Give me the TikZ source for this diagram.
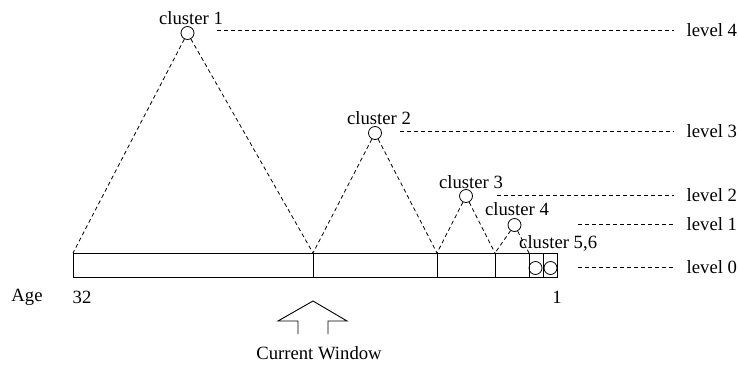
\documentclass[tikz,border=0pt]{standalone}
\usepackage{fontspec}
\setmainfont{Liberation Serif}
\begin{document}
\begin{tikzpicture}[x=1pt,y=-1pt,
  every node/.style={font=\fontsize{18.7}{20}\selectfont, inner sep=0pt},
  clus/.style={draw, circle, minimum size=13pt, inner sep=0pt, line width=0.8pt},
  tri/.style={dashed, dash pattern=on 4pt off 3pt, line width=0.8pt},
  lvl/.style={dashed, dash pattern=on 4pt off 3pt, line width=0.7pt},
  solid line/.style={line width=0.9pt}]
\useasboundingbox (0,0) rectangle (738,367);

% the window bar and its cells
\draw[solid line] (73,253) rectangle (557,277);
\foreach \x in {313,437,495,529,543}
  \draw[solid line] (\x,253) -- (\x,277);

% bar corners used by the cluster triangles
\coordinate (b0) at (73,253);
\coordinate (b1) at (313,253);
\coordinate (b2) at (437,253);
\coordinate (b3) at (495,253);
\coordinate (b4) at (529,253);

% cluster points
\node[clus] (c1) at (187.5,33) {};
\node[clus] (c2) at (375,133) {};
\node[clus] (c3) at (466,196) {};
\node[clus] (c4) at (514.5,225) {};
\node[clus] (c5) at (535.5,268) {};
\node[clus] (c6) at (550.5,268) {};

\node[anchor=base] (t1) at (191,24) {cluster 1};
\node[anchor=base] (t2) at (379,124) {cluster 2};
\node[anchor=base] (t3) at (471,188) {cluster 3};
\node[anchor=base] (t4) at (517,215.5) {cluster 4};
\node[anchor=base west] (t5) at (519,248) {cluster 5,6};

\draw[tri] (c1) -- (b0);
\draw[tri] (c1) -- (b1);
\draw[tri] (c2) -- (b1);
\draw[tri] (c2) -- (b2);
\draw[tri] (c3) -- (b2);
\draw[tri] (c3) -- (b3);
\draw[tri] (c4) -- (b3);
\draw[tri] (c4) -- (b4);

% level guides
\node[anchor=west] (l4) at (686.5,30) {level 4};
\node[anchor=west] (l3) at (686.5,131) {level 3};
\node[anchor=west] (l2) at (686.5,195) {level 2};
\node[anchor=west] (l1) at (686.5,224) {level 1};
\node[anchor=west] (l0) at (686.5,267) {level 0};
\coordinate (s4) at (217,30);
\coordinate (s3) at (400,131);
\coordinate (s2) at (497,195);
\coordinate (s1) at (578,224);
\coordinate (s0) at (578,267);
\draw[lvl] (s4) -- ([xshift=-13pt]l4.west);
\draw[lvl] (s3) -- ([xshift=-13pt]l3.west);
\draw[lvl] (s2) -- ([xshift=-13pt]l2.west);
\draw[lvl] (s1) -- ([xshift=-13pt]l1.west);
\draw[lvl] (s0) -- ([xshift=-13pt]l0.west);

% age axis
\node (age) at (27,297) {Age};
\node (a32) at (82,297) {32};
\node (a1) at (557,297) {1};

% current window marker
\draw[solid line] (298,334) -- (298,321) -- (278,321) -- (313,301)
  -- (347,321) -- (328,321) -- (328,334);
\node (cw) at (319,353) {Current Window};
\end{tikzpicture}
\end{document}
